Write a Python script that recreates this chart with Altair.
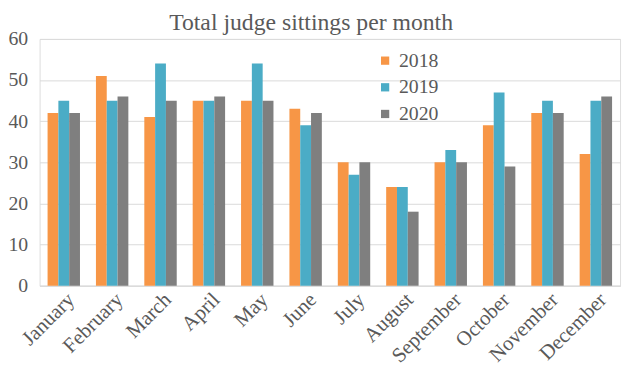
import altair as alt
import pandas as pd

months = ["January", "February", "March", "April", "May", "June", "July",
          "August", "September", "October", "November", "December"]
years = ["2018", "2019", "2020"]
v2018 = [42, 51, 41, 45, 45, 43, 30, 24, 30, 39, 42, 32]
v2019 = [45, 45, 54, 45, 54, 39, 27, 24, 33, 47, 45, 45]
v2020 = [42, 46, 45, 46, 45, 42, 30, 18, 30, 29, 42, 46]
colors = ["#F79646", "#4BACC6", "#7F7F7F"]

rows = []
for y, vals in zip(years, [v2018, v2019, v2020]):
    for m, v in zip(months, vals):
        rows.append({"month": m, "year": y, "value": v})
df = pd.DataFrame(rows)

FONT = "Liberation Serif"
TXT = "#595959"

chart = alt.Chart(df).mark_bar().encode(
    x=alt.X("month:N", sort=months, title=None,
            scale=alt.Scale(paddingInner=0.33, paddingOuter=0.165),
            axis=alt.Axis(labelAngle=-45, labelAlign="right", labelBaseline="top",
                          labelFontSize=21, labelFont=FONT, labelColor=TXT,
                          ticks=False, domainColor="#D9D9D9", labelPadding=3)),
    xOffset=alt.XOffset("year:N", sort=years, scale=alt.Scale(paddingInner=0)),
    y=alt.Y("value:Q", title=None,
            scale=alt.Scale(domain=[0, 60]),
            axis=alt.Axis(values=[0, 10, 20, 30, 40, 50, 60], labelFontSize=20,
                          labelFont=FONT, labelColor=TXT, ticks=False, domain=False,
                          gridColor="#D9D9D9", labelPadding=12)),
    color=alt.Color("year:N", sort=years,
                    scale=alt.Scale(domain=years, range=colors),
                    legend=alt.Legend(title=None, orient="none", legendX=340, legendY=12,
                                      symbolType="square", symbolSize=70,
                                      symbolStrokeWidth=0,
                                      labelFontSize=20, labelFont=FONT,
                                      labelColor=TXT, rowPadding=7, labelOffset=4)),
).properties(
    width=588, height=250,
    title=alt.TitleParams("Total judge sittings per month", font=FONT, fontSize=24,
                          fontWeight="normal", color=TXT, anchor="middle", dx=-19,
                          offset=-6),
    autosize=alt.AutoSizeParams(type="none"),
    padding={"left": 32, "top": 29, "right": 4, "bottom": 80},
).configure_view(stroke=None).configure(background="white")

chart.save("out.html", embed_options={"renderer": "svg", "actions": False})
